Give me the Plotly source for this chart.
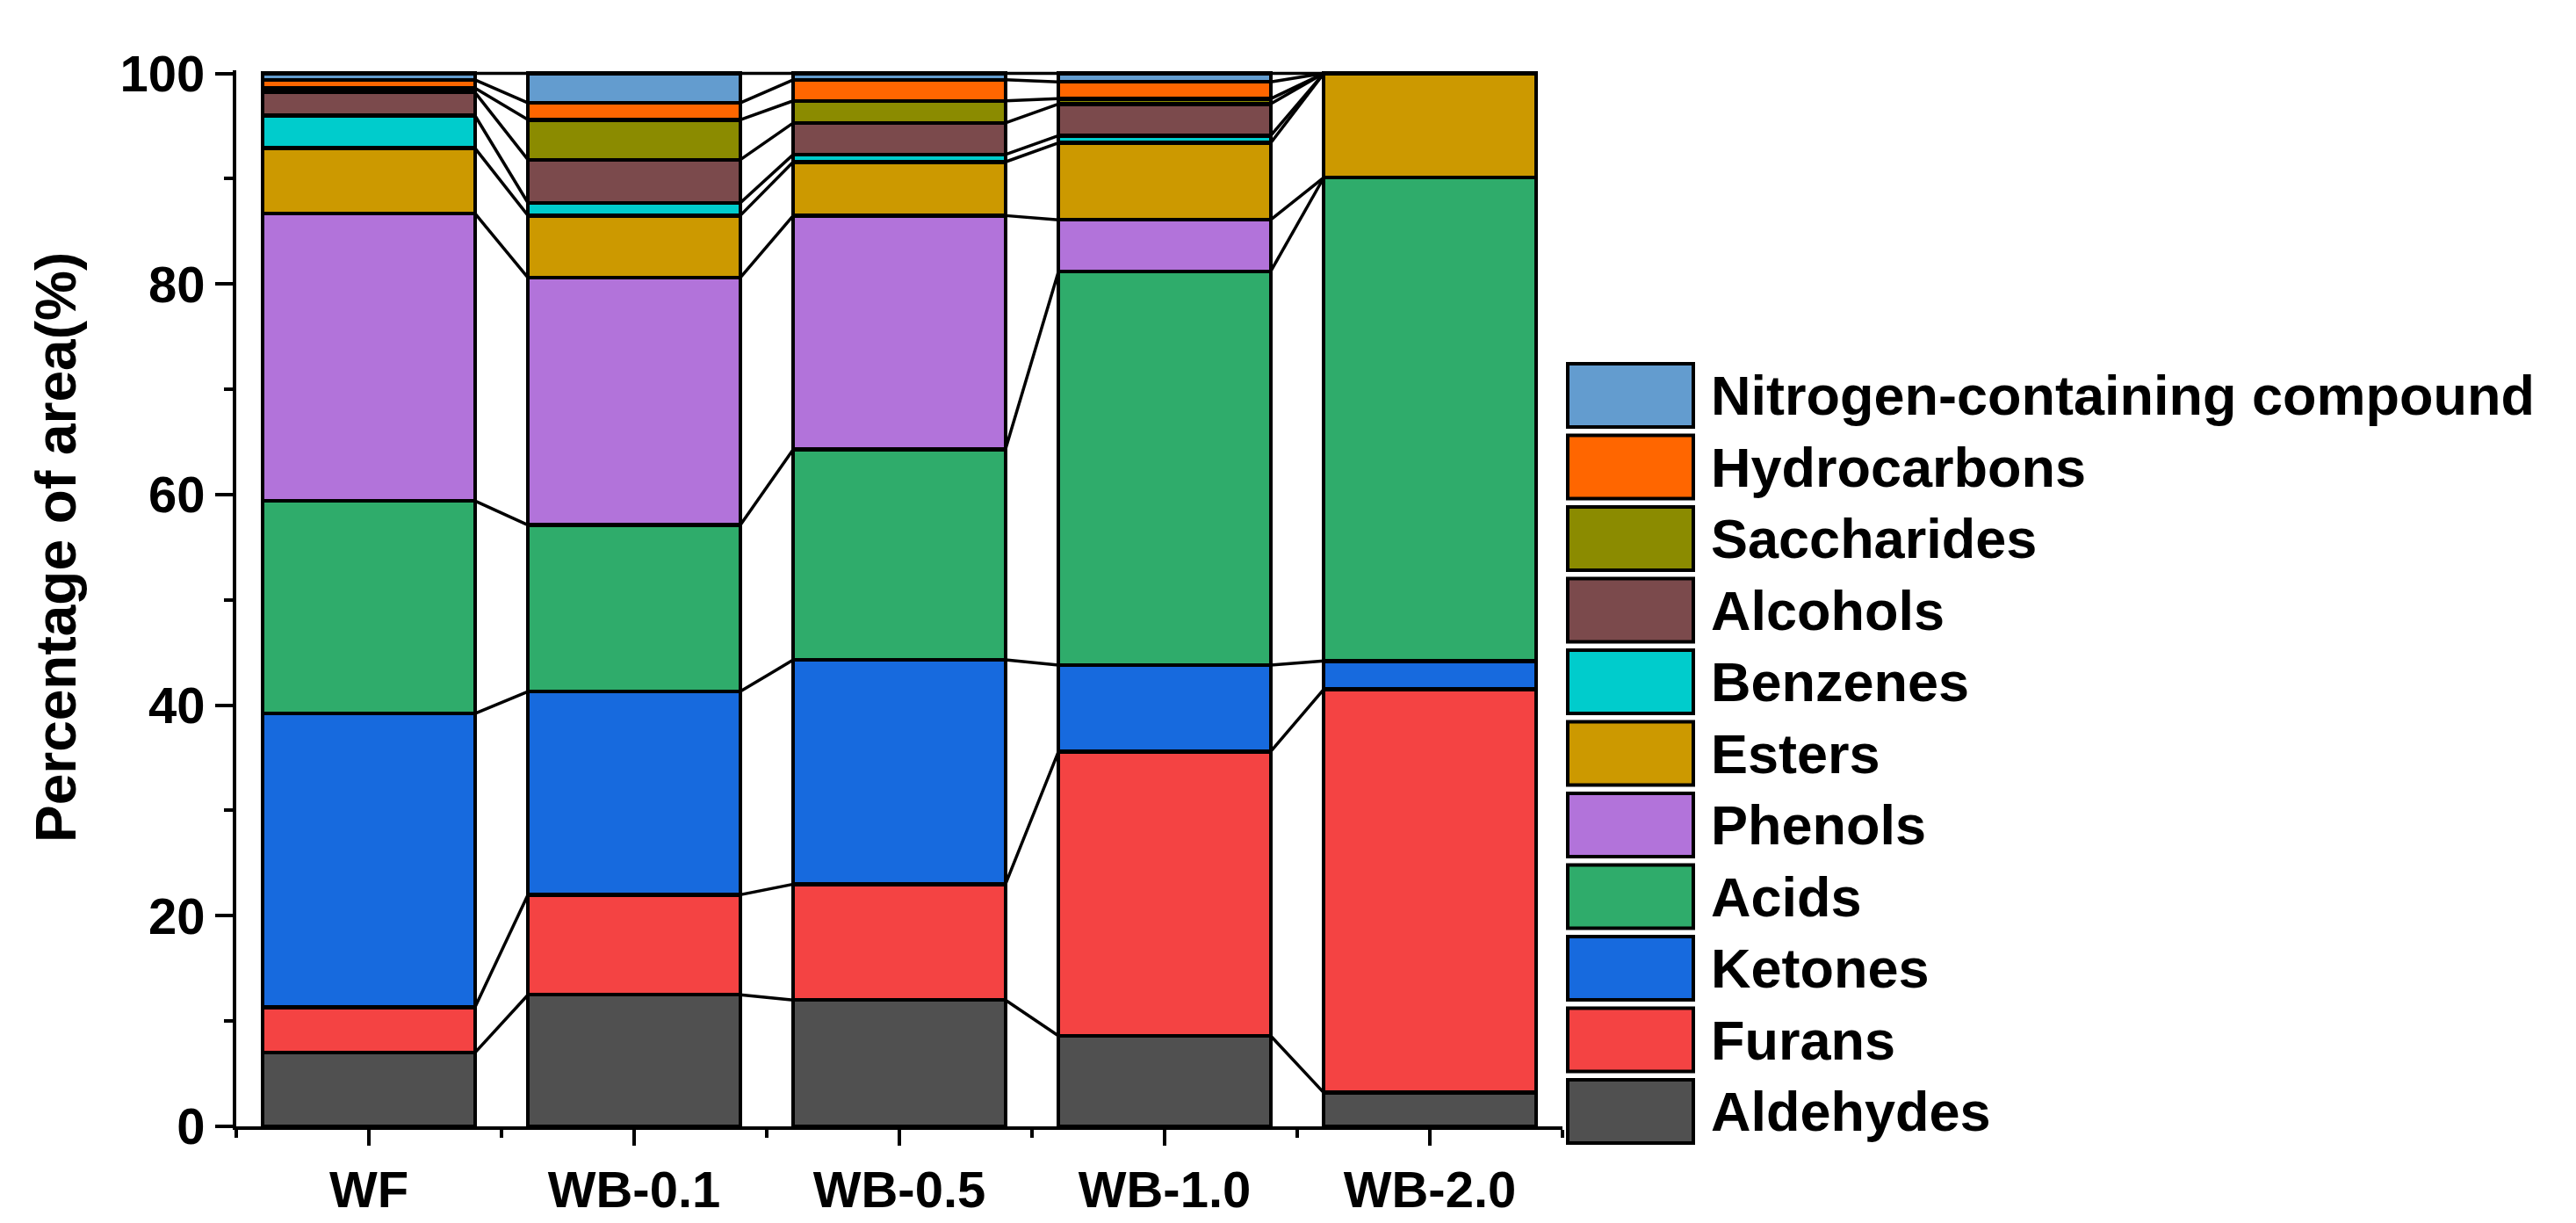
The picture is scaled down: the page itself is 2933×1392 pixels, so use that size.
import plotly.graph_objects as go

# Sample groups
categories = ["WF", "WB-0.1", "WB-0.5", "WB-1.0", "WB-2.0"]

# Percentage of peak area per compound class (bottom to top of each stack)
aldehydes = [7.0, 12.5, 12.0, 8.6, 3.2]
furans = [4.3, 9.5, 11.0, 27.0, 38.3]
ketones = [27.9, 19.3, 21.3, 8.2, 2.7]
acids = [20.2, 15.8, 20.0, 37.4, 45.9]
phenols = [27.3, 23.5, 22.2, 4.9, 0.0]
esters = [6.2, 5.9, 5.1, 7.3, 9.9]
benzenes = [3.1, 1.2, 0.7, 0.7, 0.0]
alcohols = [2.2, 4.1, 3.0, 3.0, 0.0]
saccharides = [0.4, 3.8, 2.1, 0.5, 0.0]
hydrocarbons = [0.8, 1.6, 2.0, 1.6, 0.0]
nitrogen = [0.6, 2.8, 0.6, 0.8, 0.0]

series_names = ["Aldehydes", "Furans", "Ketones", "Acids", "Phenols", "Esters",
                "Benzenes", "Alcohols", "Saccharides", "Hydrocarbons",
                "Nitrogen-containing compound"]
series_values = [aldehydes, furans, ketones, acids, phenols, esters,
                 benzenes, alcohols, saccharides, hydrocarbons, nitrogen]
colors = ["#505050", "#F44343", "#176ADE", "#2FAC6B", "#B273DA", "#CC9900",
          "#00CCCC", "#7B4A4C", "#8B8B00", "#FF6600", "#639CCF"]

x = list(range(len(categories)))
bar_w = 0.8
FONT = "Liberation Sans, Arial"

fig = go.Figure()

for name, vals, col in zip(series_names, series_values, colors):
    fig.add_trace(go.Bar(x=x, y=vals, name=name, width=bar_w,
                         marker=dict(color=col, line=dict(color="black", width=4.5)),
                         showlegend=False))

# connecting lines between the tops of the segments of neighbouring bars
cum = [0.0] * len(categories)
lx, ly = [], []
for vals in series_values:
    cum = [c + v for c, v in zip(cum, vals)]
    for i in range(len(categories) - 1):
        lx += [x[i] + bar_w / 2, x[i + 1] - bar_w / 2, None]
        ly += [cum[i], cum[i + 1], None]
fig.add_trace(go.Scatter(x=lx, y=ly, mode="lines", line=dict(color="black", width=3.5),
                         showlegend=False, hoverinfo="skip"))

# plot area in pixels
PL, PR, PT, PB = 261, 1771, 72, 1274


def to_paper(px, py):
    return (px - PL) / (PR - PL), (PB - py) / (PB - PT)


# hand-drawn legend with large boxes (top item = last series)
shapes, annotations = [], []
for i, (name, col) in enumerate(zip(series_names[::-1], colors[::-1])):
    top = 406 + 81.5 * i
    x0, y0 = to_paper(1777, top + 72)
    x1, y1 = to_paper(1920, top)
    shapes.append(dict(type="rect", xref="paper", yref="paper", x0=x0, x1=x1, y0=y0, y1=y1,
                       fillcolor=col, line=dict(color="black", width=4)))
    tx, ty = to_paper(1938, top + 36)
    annotations.append(dict(xref="paper", yref="paper", x=tx, y=ty, text=name, showarrow=False,
                            xanchor="left", yanchor="middle",
                            font=dict(size=63, color="black", family=FONT, weight="bold")))

# y-axis title, placed like the original
tx, ty = to_paper(56, 615)
annotations.append(dict(xref="paper", yref="paper", x=tx, y=ty, text="Percentage of area(%)",
                        textangle=-90, showarrow=False, xanchor="center", yanchor="middle",
                        font=dict(size=64, color="black", family=FONT, weight="bold")))

fig.update_layout(
    width=2933, height=1392,
    barmode="stack",
    plot_bgcolor="white", paper_bgcolor="white",
    margin=dict(l=PL, r=2933 - PR, t=PT, b=1392 - PB, pad=0),
    font=dict(family=FONT, size=58, color="black", weight="bold"),
    shapes=shapes, annotations=annotations,
)

fig.update_xaxes(range=[-0.5, 4.5], tickmode="array", tickvals=x, ticktext=categories,
                 showline=True, linecolor="black", linewidth=4, showgrid=False, zeroline=False,
                 ticks="outside", ticklen=18, tickwidth=4, tickcolor="black",
                 minor=dict(tickmode="array", tickvals=[-0.5, 0.5, 1.5, 2.5, 3.5, 4.5],
                            ticks="outside", ticklen=9, tickwidth=4, tickcolor="black"))

fig.update_yaxes(range=[0, 100.3], tickmode="linear", tick0=0, dtick=20,
                 showline=True, linecolor="black", linewidth=4, showgrid=False, zeroline=False,
                 ticks="outside", ticklen=20, tickwidth=4, tickcolor="black",
                 minor=dict(tick0=10, dtick=20, ticks="outside", ticklen=10, tickwidth=4,
                            tickcolor="black"))

fig.write_html("out.html")
